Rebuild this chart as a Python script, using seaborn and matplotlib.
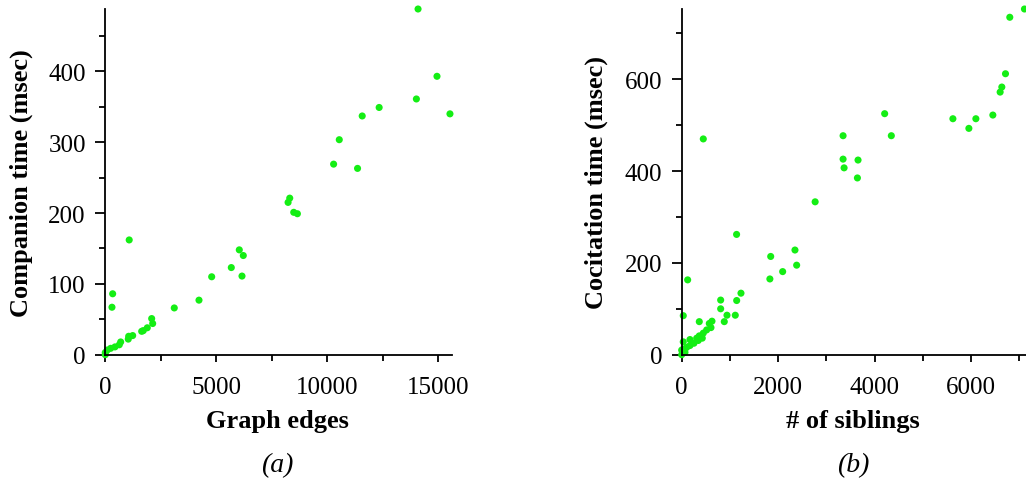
import numpy as np
import pandas as pd
import matplotlib
matplotlib.use('Agg')
import matplotlib.pyplot as plt
from matplotlib.ticker import MultipleLocator
import seaborn as sns

# panel (a): graph edges vs companion time
edges = [0, 0, 90, 243, 437, 631, 694, 1036, 1054, 1234, 1640, 1712, 1892, 2135, 2090,
         302, 333, 1078, 3108, 4221, 4793, 5676, 6158, 6036, 6216,
         8233, 8308, 8488, 8653, 10284, 10539, 11362, 11572, 12335,
         14012, 14087, 14940, 15524]
companion_ms = [0, 3, 6.6, 9, 11, 14, 18, 22, 26, 27, 33, 34, 38, 44, 51,
                67, 86, 162, 66, 77, 110, 123, 111, 148, 140,
                215, 221, 201, 199, 269, 303.5, 263, 337, 349,
                361, 488, 393, 340]

# panel (b): siblings vs cocitation time
siblings = [0, 0, 68, 33, 33, 104, 172, 172, 255, 311, 344, 365, 427, 448, 518, 607,
            572, 628, 365, 33, 124, 808, 808, 883, 939, 1111, 1140, 1229, 1138, 448,
            1828, 1845, 2093, 2383, 2348, 2766,
            3345, 3345, 3366, 3655, 3642, 4207, 4345,
            5621, 5952, 6097, 6449, 6600, 6635, 6711, 6800, 7104]
cocitation_ms = [0, 10, 5, 12, 28, 16, 20, 33, 25, 36, 31, 41, 36, 47, 54, 59,
                 68, 73, 72, 85, 163, 100, 119, 72, 86, 86, 118, 134, 262, 470,
                 165, 214, 181, 195, 228, 333,
                 477, 426, 407, 424, 385, 525, 477,
                 514, 493, 514, 522, 572, 583, 612, 735, 753]

df_a = pd.DataFrame({'edges': edges, 'time': companion_ms})
df_b = pd.DataFrame({'siblings': siblings, 'time': cocitation_ms})

sns.set_style('ticks')
plt.rcParams['font.family'] = ['Liberation Serif', 'DejaVu Serif']
plt.rcParams['text.color'] = 'black'
plt.rcParams['axes.labelcolor'] = 'black'
plt.rcParams['axes.edgecolor'] = 'black'

green = '#14ee14'
fig = plt.figure(figsize=(10.26, 4.81), dpi=100)
ax1 = fig.add_axes([0.1026, 0.2605, 0.3376, 0.7187])
ax2 = fig.add_axes([0.6644, 0.2605, 0.3356, 0.7187])

sns.scatterplot(data=df_a, x='edges', y='time', ax=ax1, color=green, s=26,
                edgecolor='none', clip_on=False)
sns.scatterplot(data=df_b, x='siblings', y='time', ax=ax2, color=green, s=26,
                edgecolor='none', clip_on=False)

ax1.set_xlim(0, 15600)
ax1.set_ylim(0, 488)
ax1.xaxis.set_major_locator(MultipleLocator(5000))
ax1.xaxis.set_minor_locator(MultipleLocator(2500))
ax1.yaxis.set_major_locator(MultipleLocator(100))
ax1.yaxis.set_minor_locator(MultipleLocator(50))

ax2.set_xlim(0, 7136)
ax2.set_ylim(0, 753)
ax2.xaxis.set_major_locator(MultipleLocator(2000))
ax2.xaxis.set_minor_locator(MultipleLocator(1000))
ax2.yaxis.set_major_locator(MultipleLocator(200))
ax2.yaxis.set_minor_locator(MultipleLocator(100))

panels = [(ax1, 'Graph edges', 'Companion time (msec)', '(a)', -0.243, 0.2705),
          (ax2, '# of siblings', 'Cocitation time (msec)', '(b)', -0.249, 0.8314)]
for ax, xl, yl, cap, ylx, capx in panels:
    sns.despine(ax=ax)
    ax.spines['left'].set_linewidth(1.3)
    ax.spines['bottom'].set_linewidth(1.3)
    ax.tick_params(which='both', width=1.3, color='black')
    ax.tick_params(axis='x', which='major', length=5, pad=10)
    ax.tick_params(axis='x', which='minor', length=4)
    ax.tick_params(axis='y', which='major', length=7, pad=7)
    ax.tick_params(axis='y', which='minor', length=4)
    ax.tick_params(which='major', labelsize=18, labelcolor='black')
    ax.set_xlabel(xl, fontsize=19, fontweight='bold', va='baseline')
    ax.xaxis.set_label_coords(0.497, -0.209)
    ax.set_ylabel(yl, fontsize=19, fontweight='bold', va='center')
    ax.yaxis.set_label_coords(ylx, 0.4996)
    fig.text(capx, 0.019, cap, ha='center', va='baseline',
             fontsize=20, fontstyle='italic')

fig.savefig('out.png', dpi=100)
